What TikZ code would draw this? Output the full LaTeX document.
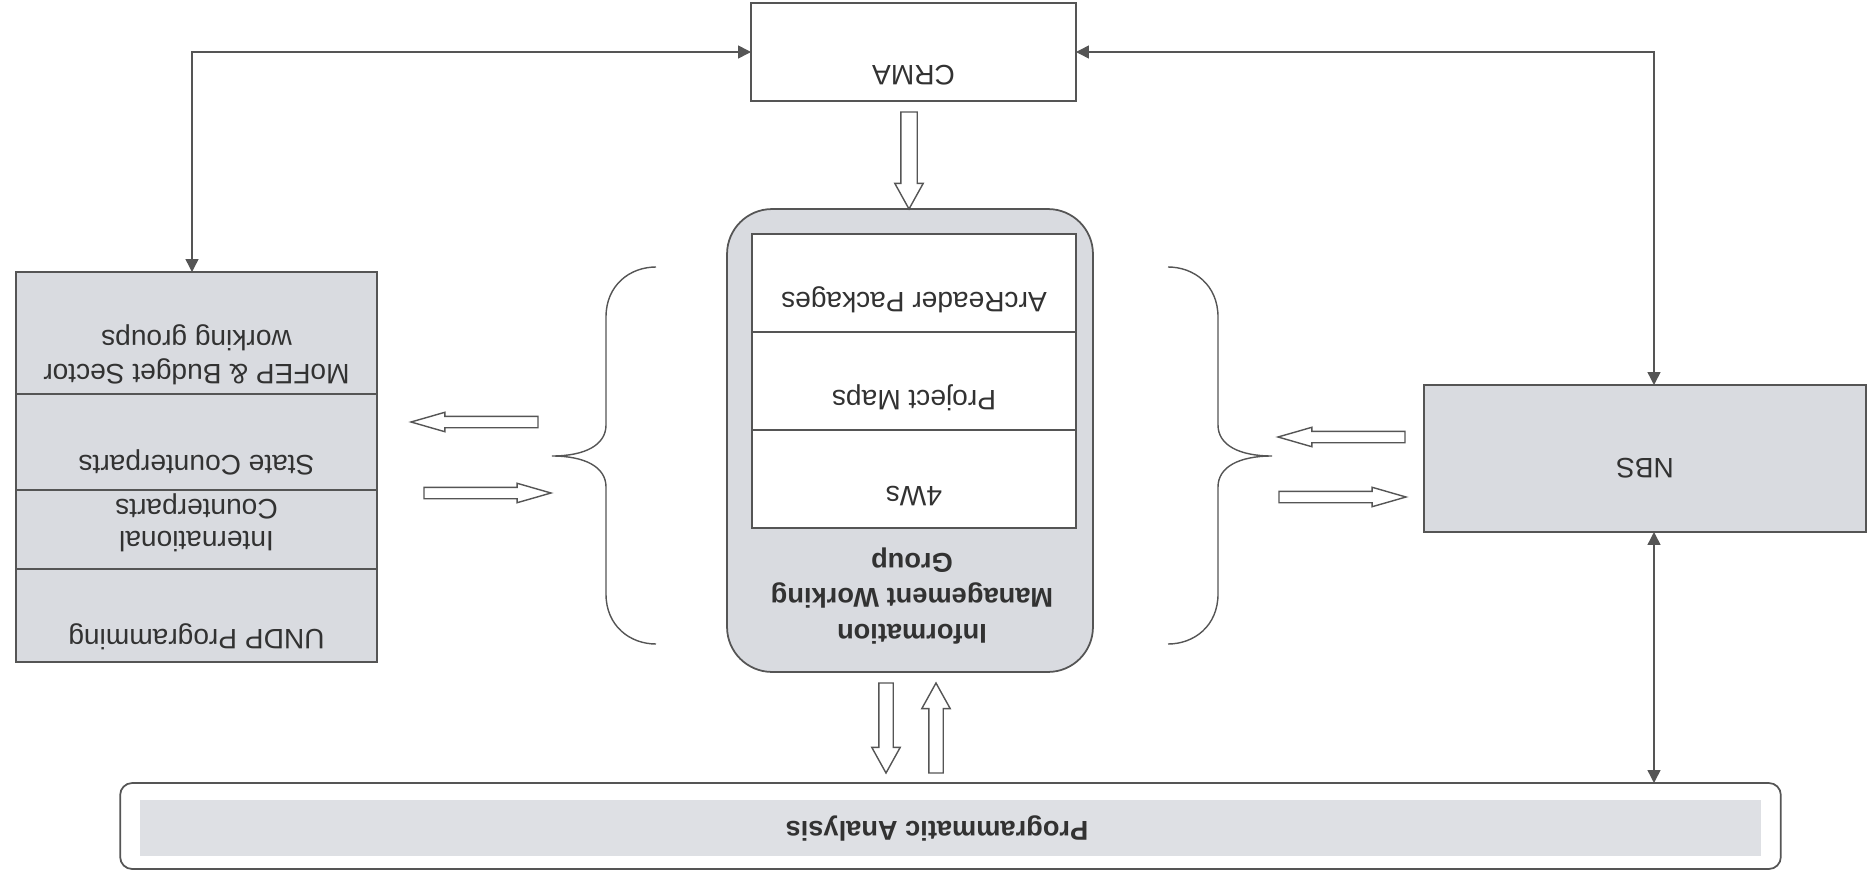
\documentclass[tikz,border=0pt]{standalone}
\usepackage{fontspec}
\setmainfont{Liberation Sans}
\usetikzlibrary{arrows.meta,shapes.arrows,positioning}
\definecolor{boxgray}{RGB}{217,219,224}
\definecolor{bargray}{RGB}{222,224,228}
\definecolor{linegray}{RGB}{85,85,85}
\definecolor{txtgray}{RGB}{50,50,50}

\begin{document}
\begin{tikzpicture}[
    x=0.02cm, y=-0.02cm,
    every node/.style={inner sep=0pt, outer sep=0pt},
    panel/.style={draw=linegray, line width=1pt, fill=boxgray},
    plain/.style={draw=linegray, line width=1pt, fill=white},
    txt/.style={
        rotate=180,
        align=center,
        text=txtgray,
        font=\fontsize{16}{19.5}\selectfont
    },
    btxt/.style={txt, font=\fontsize{15.5}{20}\selectfont\bfseries},
    link/.style={
        {Triangle[length=0.26cm,width=0.26cm]}-{Triangle[length=0.26cm,width=0.26cm]},
        draw=linegray, line width=0.8pt
    },
    brace/.style={draw=linegray, line width=0.8pt},
    harrow/.style={
        single arrow, draw=linegray, line width=0.8pt, fill=white, anchor=tip,
        inner xsep=0pt, inner ysep=0.1cm, minimum height=2.54cm,
        single arrow head extend=0.08cm, single arrow tip angle=32
    },
    varrow/.style={
        single arrow, draw=linegray, line width=0.8pt, fill=white, anchor=tip,
        inner xsep=0pt, inner ysep=0.15cm,
        single arrow head extend=0.12cm, single arrow tip angle=58
    }
]
\useasboundingbox (0,0) rectangle (1870,879);

% Nodes
\node[plain, minimum width=6.5cm, minimum height=1.96cm] (crma) at (913.5,52) {};
\node[txt] (crmatxt) at ([yshift=-0.46cm]crma.center) {CRMA};

\node[panel, rounded corners=0.9cm, minimum width=7.32cm, minimum height=9.26cm] (imwg) at (910,440.5) {};
\node[plain, minimum width=6.48cm, minimum height=1.96cm] (arc) at (914,283) {};
\node[plain, minimum width=6.48cm, minimum height=1.96cm, below=0pt of arc] (maps) {};
\node[plain, minimum width=6.48cm, minimum height=1.96cm, below=0pt of maps] (ws) {};
\node[txt] (arctxt) at ([yshift=-0.34cm]arc.center) {ArcReader Packages};
\node[txt] (mapstxt) at ([yshift=-0.34cm]maps.center) {Project Maps};
\node[txt] (wstxt) at ([yshift=-0.34cm]ws.center) {4Ws};
\node[btxt] (imwgtxt) at (912,596) {Information\\Management Working\\Group};

\node[panel, minimum width=7.22cm, minimum height=2.44cm] (mofep) at (196.5,333) {};
\node[panel, minimum width=7.22cm, minimum height=1.92cm, below=0pt of mofep] (state) {};
\node[panel, minimum width=7.22cm, minimum height=1.58cm, below=0pt of state] (intl) {};
\node[panel, minimum width=7.22cm, minimum height=1.86cm, below=0pt of intl] (undp) {};
\node[txt] (mofeptxt) at ([yshift=-0.43cm]mofep.center) {MoFEP \& Budget Sector\\working groups};
\node[txt] (statetxt) at ([yshift=-0.4cm]state.center) {State Counterparts};
\node[txt, font=\fontsize{16}{18.5}\selectfont] (intltxt) at ([yshift=0.13cm]intl.center) {International\\Counterparts};
\node[txt] (undptxt) at ([yshift=-0.43cm]undp.center) {UNDP Programming};

\node[panel, minimum width=8.84cm, minimum height=2.94cm] (nbs) at (1645,458.5) {};
\node[txt] (nbstxt) at ([yshift=-0.2cm]nbs.center) {NBS};

\node[plain, rounded corners=0.24cm, minimum width=33.22cm, minimum height=1.72cm] (bar) at (950.5,826) {};
\node[fill=bargray, minimum width=32.42cm, minimum height=1.12cm] (barfill) at (950.5,828) {};
\node[btxt] (bartxt) at (937,828) {Programmatic Analysis};

% Block arrows
\node[varrow, minimum height=1.94cm, rotate=-90] (crmadown) at (909,209) {};
\node[varrow, inner ysep=0.13cm, single arrow head extend=0.14cm, minimum height=1.8cm, rotate=-90] (bardown) at (886,773) {};
\node[varrow, inner ysep=0.13cm, single arrow head extend=0.14cm, minimum height=1.8cm, rotate=90] (barup) at (936,683) {};
\node[harrow, rotate=180] (leftout) at (411,422) {};
\node[harrow] (leftin) at (551,493) {};
\node[harrow, rotate=180] (rightin) at (1278,437) {};
\node[harrow] (rightout) at (1406,497) {};

% Braces
\draw[brace] (656,267) .. controls (630,267) and (606,285) .. (606,317) -- (606,425)
    .. controls (606,445) and (585,456) .. (552,456)
    .. controls (585,456) and (606,467) .. (606,487) -- (606,594)
    .. controls (606,626) and (630,644) .. (656,644);
\draw[brace] (1168,267) .. controls (1194,267) and (1218,285) .. (1218,317) -- (1218,425)
    .. controls (1218,445) and (1239,456) .. (1272,456)
    .. controls (1239,456) and (1218,467) .. (1218,487) -- (1218,594)
    .. controls (1218,626) and (1194,644) .. (1168,644);

% Arrows
\coordinate (lturn) at (192,52);
\draw[link] (crma.west) -- (lturn) -- (lturn |- mofep.north);
\draw[link] (crma.east) -| ([xshift=0.18cm]nbs.north);
\draw[link] ([xshift=0.18cm]nbs.south) -- ([xshift=0.18cm]nbs.south |- bar.north);

\end{tikzpicture}
\end{document}
